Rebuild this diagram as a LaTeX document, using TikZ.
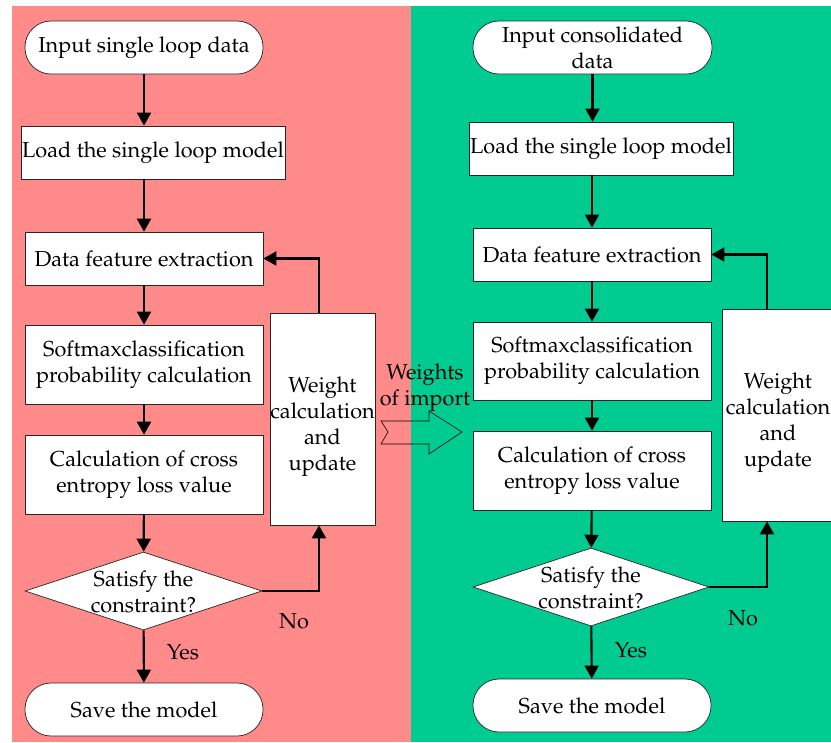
\documentclass[tikz,border=0pt]{standalone}
\usepackage[T1]{fontenc}
\usepackage{palatino}
\usepackage{tikz}
\usetikzlibrary{shapes.geometric,arrows.meta}
\definecolor{leftbg}{RGB}{255,138,138}
\definecolor{rightbg}{RGB}{0,204,146}

\begin{document}
\begin{tikzpicture}[x=0.03cm,y=-0.03cm]
	\useasboundingbox (0,0) rectangle (831,742);
	\fill[leftbg] (12,6) rectangle (411,742);
	\fill[rightbg] (411,6) rectangle (831,742);
	\tikzstyle{every node}=[font=\fontsize{18.5}{22.2}\selectfont, inner sep=0pt, align=center];
	\tikzstyle{term}=[draw=black!85, fill=white, line width=0.6pt, rounded corners=0.78cm, minimum width=7.14cm, minimum height=1.59cm];
	\tikzstyle{proc}=[draw=black!85, fill=white, line width=0.6pt, minimum width=7.14cm];
	\tikzstyle{decision}=[draw=black!85, fill=white, line width=0.6pt, diamond, minimum width=7.11cm, minimum height=2.34cm];
	\tikzstyle{flow}=[line width=1.8pt, -{Triangle[length=0.39cm,width=0.42cm]}];
	
	\path (144,47.5) node[term] (in1) {Input single loop data};
	\path (153,152.5) node[proc, minimum width=7.92cm, minimum height=1.59cm] (load1) {Load the single loop model};
	\path (144,258.5) node[proc, minimum height=1.59cm] (feat1) {Data feature extraction};
	\path (144,364.5) node[proc, minimum height=2.37cm] (soft1) {Softmaxclassification\\probability calculation};
	\path (144,474.5) node[proc, minimum height=2.37cm] (cross1) {Calculation of cross\\entropy loss value};
	\path (322.5,419) node[proc, minimum width=3.15cm, minimum height=6.36cm] (wt1) {};
	\path (322.5,427) node (wt1txt) {Weight\\calculation\\and\\update};
	\path (143.5,591) node[decision] (dec1) {};
	\path (143.5,592) node (dec1txt) {Satisfy the\\constraint?};
	\path (144,709.5) node[term] (save1) {Save the model};
	\path (294,621) node (no1) {No};
	\path (183,652) node (yes1) {Yes};
	
	\draw[flow] (in1.south) -- (in1.south |- load1.north);
	\draw[flow] (load1.south -| feat1) -- (feat1.north);
	\draw[flow] (feat1) -- (soft1);
	\draw[flow] (soft1) -- (cross1);
	\draw[flow] (cross1) -- (dec1);
	\draw[flow] (dec1) -- (save1);
	\draw[flow] (dec1.east) -| ([xshift=-0.105cm]wt1.south);
	\draw[flow] ([xshift=-0.105cm]wt1.north) |- (feat1.east);
	
	\path (592.5,47.5) node[term, minimum width=7.17cm] (in2) {Input consolidated\\data};
	\path (601,148.5) node[proc, minimum width=7.92cm, minimum height=1.59cm] (load2) {Load the single loop model};
	\path (592,254.5) node[proc, minimum height=1.59cm] (feat2) {Data feature extraction};
	\path (592,361) node[proc, minimum height=2.34cm] (soft2) {Softmaxclassification\\probability calculation};
	\path (592,470.5) node[proc, minimum height=2.37cm] (cross2) {Calculation of cross\\entropy loss value};
	\path (778,415) node[proc, minimum width=3.36cm, minimum height=6.36cm] (wt2) {};
	\path (778,423) node (wt2txt) {Weight\\calculation\\and\\update};
	\path (591,587) node[decision, minimum width=7.08cm] (dec2) {};
	\path (591,588) node (dec2txt) {Satisfy the\\constraint?};
	\path (592,705.5) node[term] (save2) {Save the model};
	\path (743,618) node (no2) {No};
	\path (631,650) node (yes2) {Yes};
	
	\draw[flow] (in2.south) -- (in2.south |- load2.north);
	\draw[flow] (load2.south -| feat2) -- (feat2.north);
	\draw[flow] (feat2) -- (soft2);
	\draw[flow] (soft2) -- (cross2);
	\draw[flow] (cross2) -- (dec2);
	\draw[flow] (dec2) -- (save2);
	\draw[flow] (dec2.east) -| ([xshift=-0.33cm]wt2.south);
	\draw[flow] ([xshift=-0.33cm]wt2.north) |- (feat2.east);
	
	\path (425,388) node (wimport) {Weights\\of import};
	\draw[line width=0.5pt] (381,421) -- (429,421) -- (429,411) -- (462,432) -- (429,454) -- (429,444) -- (381,444) -- (388,432) -- cycle;
\end{tikzpicture}
\end{document}
